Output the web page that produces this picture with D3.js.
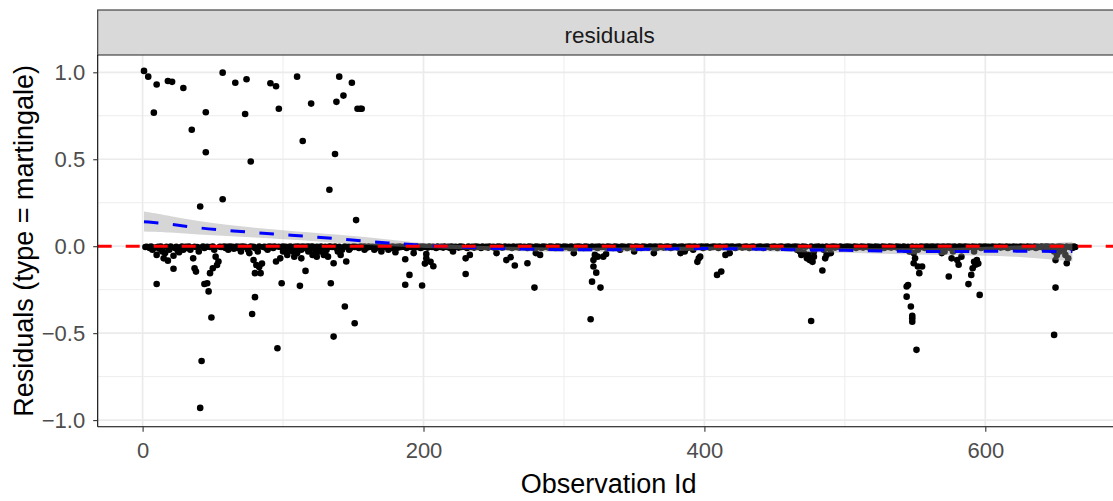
<!DOCTYPE html>
<html>
<head>
<meta charset="utf-8">
<script src="https://cdn.jsdelivr.net/npm/d3@7"></script>
<style>
  html, body { margin: 0; padding: 0; background: #ffffff; }
  svg { display: block; }
  text { font-family: "Liberation Sans", Arial, sans-serif; }
</style>
</head>
<body>
<div id="chart"></div>
<script>
// ---------------- DATA ----------------
const stripLabel = "residuals";
const xTitle = "Observation Id";
const yTitle = "Residuals (type = martingale)";
const xTicks = [0, 200, 400, 600];
const xMinor = [100, 300, 500];
const yTicks = [-1.0, -0.5, 0.0, 0.5, 1.0];
const yMinor = [-0.75, -0.25, 0.25, 0.75];
const xDomain = [-31.97, 697];
const yDomain = [-1.038, 1.0995];

// events (positive martingale residuals) [observation id, residual]
const highResiduals = [
  [1,1.008],[4,0.975],[8,0.768],[10,0.93],[18,0.95],[21,0.945],[29,0.91],[35,0.67],[41,0.228],
  [45,0.77],[45,0.54],[57,0.998],[57,0.27],[66,0.94],[73,0.76],[74,0.96],[77,0.487],
  [91,0.937],[95,0.92],[97,0.79],[110,0.975],[114,0.605],[120,0.82],[133,0.325],[137,0.53],
  [138,0.83],[140,0.975],[143,0.866],[149,0.94],[152,0.15],[153,0.79],[155,0.79],[156,0.79]
];

// clearly negative residuals [observation id, residual]
const lowResiduals = [
  [10,-0.217],[10,-0.05],[15,-0.07],[18,-0.083],[22,-0.13],[22,-0.055],[26,-0.035],[29,-0.02],
  [36,-0.07],[37,-0.127],[38,-0.146],[41,-0.93],[42,-0.66],[44,-0.217],[46,-0.213],[47,-0.26],
  [48,-0.155],[49,-0.41],[50,-0.127],[52,-0.06],[53,-0.108],[54,-0.088],
  [78,-0.39],[79,-0.08],[80,-0.293],[80,-0.155],[81,-0.108],[83,-0.12],[84,-0.155],[85,-0.10],
  [95,-0.088],[96,-0.587],[98,-0.07],[99,-0.213],[100,-0.03],[103,-0.05],[108,-0.06],
  [110,-0.04],[112,-0.228],[113,-0.07],[116,-0.142],[118,-0.03],[121,-0.05],[124,-0.06],
  [130,-0.04],[132,-0.06],[134,-0.213],[136,-0.098],[136,-0.52],[139,-0.03],[141,-0.05],
  [144,-0.347],[145,-0.088],[147,-0.02],[151,-0.443],[158,-0.02],
  [165,-0.02],[170,-0.03],[175,-0.02],[180,-0.035],
  [187,-0.075],[187,-0.222],[190,-0.165],[193,-0.04],[199,-0.226],[201,-0.1],[202,-0.07],
  [202,-0.045],[205,-0.09],[207,-0.115],[221,-0.03],[230,-0.16],[230,-0.07],[233,-0.05],
  [252,-0.04],[259,-0.08],[262,-0.063],[265,-0.111],[274,-0.098],[279,-0.238],[280,-0.04],
  [283,-0.05],[307,-0.04],[319,-0.42],[320,-0.204],[321,-0.117],[321,-0.08],[322,-0.05],
  [323,-0.152],[324,-0.06],[326,-0.238],[328,-0.06],[330,-0.045],
  [340,-0.02],[350,-0.03],[364,-0.04],[383,-0.04],[386,-0.03],[395,-0.09],[396,-0.07],
  [397,-0.06],[409,-0.165],[412,-0.146],[415,-0.05],[418,-0.04],
  [469,-0.05],[473,-0.07],[475,-0.08],[476,-0.43],[477,-0.09],[478,-0.06],[484,-0.14],
  [486,-0.07],[487,-0.05],[490,-0.04],
  [544,-0.232],[544,-0.29],[545,-0.223],[547,-0.347],[548,-0.414],[548,-0.434],[548,-0.40],
  [549,-0.098],[550,-0.07],[551,-0.596],[552,-0.117],[553,-0.155],[555,-0.117],
  [574,-0.174],[576,-0.07],[580,-0.08],[581,-0.107],[583,-0.06],[588,-0.218],[590,-0.165],
  [591,-0.127],[592,-0.09],[593,-0.107],[594,-0.08],[595,-0.1],[596,-0.28],
  [649,-0.51],[650,-0.238],[650,-0.08],[651,-0.05],[653,-0.03],[657,-0.05],[658,-0.098],[659,-0.07]
];

// dense band of censored observations with residuals close to zero [observation id, residual]
const nearZero = [
  [2,-0.005],[5,-0.01],[7,-0.02],[9,-0.008],[12,-0.015],[14,-0.03],[16,-0.04],[19,-0.02],[23,-0.01],
  [25,-0.025],[27,-0.008],[30,-0.005],[32,-0.01],[34,-0.02],[39,-0.005],[40,-0.03],[44,-0.01],
  [48,-0.005],[51,-0.02],[56,-0.005],[59,-0.01],[61,-0.02],[63,-0.005],[65,-0.015],[68,-0.01],
  [70,-0.03],[72,-0.005],[75,-0.02],[76,-0.04],[80,-0.01],[82,-0.03],[86,-0.005],[88,-0.01],
  [89,-0.02],[91,-0.005],[93,-0.01],[99,-0.005],[101,-0.01],[104,-0.02],[106,-0.005],[107,-0.03],
  [109,-0.01],[111,-0.005],[113,-0.02],[115,-0.01],[117,-0.005],[119,-0.02],[122,-0.01],[123,-0.04],
  [125,-0.005],[126,-0.03],[128,-0.01],[129,-0.05],[131,-0.02],[135,-0.005],[138,-0.01],[142,-0.02],
  [146,-0.005],[148,-0.01],[151,-0.005],[154,-0.01],[157,-0.005],[160,-0.008],[163,-0.005],
  [166,-0.01],[168,-0.005],[171,-0.008],[174,-0.005],[177,-0.01],[179,-0.005],[182,-0.008],
  [184,-0.005],[188,-0.01],[191,-0.005],[194,-0.008],[196,-0.005],[198,-0.01],[200,-0.005],
  [203,-0.008],[206,-0.005],[209,-0.01],[212,-0.005],[214,-0.008],[217,-0.005],[219,-0.01],
  [222,-0.005],[225,-0.008],[227,-0.005],[231,-0.01],[234,-0.005],[236,-0.008],[238,-0.005],
  [241,-0.01],[244,-0.005],[246,-0.008],[249,-0.005],[251,-0.01],[254,-0.005],[256,-0.008],
  [260,-0.005],[263,-0.01],[266,-0.005],[268,-0.008],[271,-0.005],[274,-0.01],[276,-0.005],
  [278,-0.008],[281,-0.005],[284,-0.01],[286,-0.005],[289,-0.008],[291,-0.005],[294,-0.01],
  [296,-0.005],[299,-0.008],[301,-0.005],[304,-0.01],[306,-0.005],[309,-0.008],[311,-0.005],
  [314,-0.01],[316,-0.005],[318,-0.008],[322,-0.005],[324,-0.01],[327,-0.005],[330,-0.008],
  [332,-0.005],[335,-0.01],[337,-0.005],[340,-0.008],[342,-0.005],[345,-0.01],[347,-0.005],
  [350,-0.008],[352,-0.005],[355,-0.01],[357,-0.005],[360,-0.008],[362,-0.005],[366,-0.01],
  [368,-0.005],[371,-0.008],[373,-0.005],[376,-0.01],[378,-0.005],[381,-0.008],[385,-0.005],
  [388,-0.01],[390,-0.005],[392,-0.02],[394,-0.005],[399,-0.01],[401,-0.005],[404,-0.008],
  [406,-0.005],[410,-0.01],[413,-0.005],[417,-0.008],[419,-0.005],[422,-0.01],[424,-0.005],
  [427,-0.008],[429,-0.005],[432,-0.01],[434,-0.005],[437,-0.008],[439,-0.005],[442,-0.01],
  [444,-0.005],[447,-0.008],[449,-0.005],[452,-0.01],[454,-0.005],[457,-0.008],[459,-0.005],
  [462,-0.01],[464,-0.005],[466,-0.02],[468,-0.03],[471,-0.04],[474,-0.05],[478,-0.03],
  [480,-0.01],[482,-0.005],[485,-0.02],[488,-0.01],[491,-0.005],[493,-0.008],[496,-0.005],
  [498,-0.01],[501,-0.005],[503,-0.008],[506,-0.005],[508,-0.01],[511,-0.005],[513,-0.008],
  [516,-0.005],[518,-0.01],[521,-0.005],[523,-0.008],[526,-0.005],[528,-0.01],[531,-0.005],
  [533,-0.008],[536,-0.005],[538,-0.01],[541,-0.005],[543,-0.02],[546,-0.03],[549,-0.04],
  [552,-0.02],[555,-0.005],[557,-0.01],[559,-0.005],[561,-0.008],[563,-0.005],[565,-0.01],
  [567,-0.02],[569,-0.04],[571,-0.03],[573,-0.005],[575,-0.01],[577,-0.03],[579,-0.005],
  [583,-0.008],[585,-0.005],[587,-0.01],[589,-0.005],[592,-0.03],[594,-0.005],[597,-0.01],
  [599,-0.005],[601,-0.008],[603,-0.005],[606,-0.01],[608,-0.005],[611,-0.008],[613,-0.005],
  [616,-0.01],[618,-0.005],[621,-0.008],[623,-0.005],[626,-0.01],[628,-0.005],[631,-0.008],
  [633,-0.005],[636,-0.01],[638,-0.005],[641,-0.008],[643,-0.005],[645,-0.01],[647,-0.02],
  [649,-0.03],[652,-0.005],[654,-0.01],[656,-0.02],[660,-0.005],[662,-0.01],[664,-0.005]
];

// further censored observations sitting right on zero [observation id, residual]
const onZero = [
  [3,-0.003],[6,-0.002],[11,-0.003],[13,-0.002],[17,-0.003],[20,-0.002],[24,-0.003],[28,-0.002],
  [31,-0.003],[33,-0.002],[37,-0.003],[43,-0.002],[46,-0.003],[50,-0.002],[55,-0.003],[58,-0.002],
  [60,-0.003],[62,-0.002],[64,-0.003],[67,-0.002],[69,-0.003],[71,-0.002],[73,-0.003],[77,-0.002],
  [79,-0.003],[83,-0.002],[87,-0.003],[90,-0.002],[92,-0.003],[94,-0.002],[97,-0.003],[100,-0.002],
  [102,-0.003],[105,-0.002],[108,-0.003],[110,-0.002],[112,-0.003],[114,-0.002],[116,-0.003],
  [118,-0.002],[120,-0.003],[121,-0.002],[124,-0.003],[127,-0.002],[130,-0.003],[133,-0.002],
  [134,-0.003],[137,-0.002],[140,-0.003],[144,-0.002],[147,-0.003],[150,-0.002],[152,-0.003],
  [155,-0.002],[156,-0.003],[158,-0.002],
  [161,-0.002],[164,-0.003],[167,-0.002],[170,-0.003],[173,-0.002],[176,-0.003],[178,-0.002],
  [181,-0.003],[183,-0.002],[186,-0.003],[189,-0.002],[192,-0.003],[195,-0.002],[197,-0.003],
  [199,-0.002],[201,-0.003],[204,-0.002],[207,-0.003],[210,-0.002],[213,-0.003],[215,-0.002],
  [218,-0.003],[220,-0.002],[223,-0.003],[226,-0.002],[228,-0.003],[232,-0.002],[235,-0.003],
  [237,-0.002],[239,-0.003],[242,-0.002],[245,-0.003],[247,-0.002],[250,-0.003],[253,-0.002],
  [255,-0.003],[258,-0.002],[261,-0.003],[264,-0.002],[267,-0.003],[269,-0.002],[272,-0.003],
  [275,-0.002],[277,-0.003],[280,-0.002],[282,-0.003],[285,-0.002],[287,-0.003],[290,-0.002],
  [292,-0.003],[295,-0.002],[297,-0.003],[300,-0.002],[302,-0.003],[305,-0.002],[308,-0.003],
  [310,-0.002],[312,-0.003],[315,-0.002],[317,-0.003],[320,-0.002],[323,-0.003],[325,-0.002],
  [328,-0.003],[331,-0.002],[333,-0.003],[336,-0.002],[338,-0.003],[341,-0.002],[343,-0.003],
  [346,-0.002],[348,-0.003],[351,-0.002],[353,-0.003],[356,-0.002],[358,-0.003],[361,-0.002],
  [363,-0.003],[365,-0.002],[367,-0.003],[369,-0.002],[372,-0.003],[374,-0.002],[377,-0.003],
  [379,-0.002],[382,-0.003],[384,-0.002],[387,-0.003],[389,-0.002],[391,-0.003],[393,-0.002],
  [396,-0.003],[398,-0.002],[400,-0.003],[402,-0.002],[405,-0.003],[407,-0.002],[409,-0.003],
  [411,-0.002],[414,-0.003],[416,-0.002],[418,-0.003],[420,-0.002],[423,-0.003],[425,-0.002],
  [428,-0.003],[430,-0.002],[433,-0.003],[435,-0.002],[438,-0.003],[440,-0.002],[443,-0.003],
  [445,-0.002],[448,-0.003],[450,-0.002],[453,-0.003],[455,-0.002],[458,-0.003],[460,-0.002],
  [463,-0.003],[465,-0.002],[467,-0.003],[470,-0.002],[472,-0.003],[476,-0.002],[479,-0.003],
  [481,-0.002],[484,-0.003],[487,-0.002],[490,-0.003],[492,-0.002],[494,-0.003],[497,-0.002],
  [500,-0.003],[502,-0.002],[504,-0.003],[507,-0.002],[509,-0.003],[512,-0.002],[514,-0.003],
  [517,-0.002],[519,-0.003],[522,-0.002],[524,-0.003],[527,-0.002],[529,-0.003],[532,-0.002],
  [534,-0.003],[537,-0.002],[539,-0.003],[542,-0.002],[545,-0.003],[548,-0.002],[551,-0.003],
  [554,-0.002],[556,-0.003],[558,-0.002],[560,-0.003],[562,-0.002],[564,-0.003],[566,-0.002],
  [568,-0.003],[570,-0.002],[572,-0.003],[574,-0.002],[576,-0.003],[578,-0.002],[581,-0.003],
  [582,-0.002],[584,-0.003],[586,-0.002],[588,-0.003],[591,-0.002],[593,-0.003],[596,-0.002],
  [598,-0.003],[600,-0.002],[602,-0.003],[605,-0.002],[607,-0.003],[610,-0.002],[612,-0.003],
  [615,-0.002],[617,-0.003],[620,-0.002],[622,-0.003],[625,-0.002],[627,-0.003],[630,-0.002],
  [632,-0.003],[635,-0.002],[637,-0.003],[640,-0.002],[642,-0.003],[644,-0.002],[646,-0.003],
  [648,-0.002],[651,-0.003],[653,-0.002],[655,-0.003],[658,-0.002],[661,-0.003],[663,-0.002]
];

// loess smooth with confidence band
const smoothX     = [1, 20, 40, 60, 80, 100, 120, 140, 160, 180, 200, 230, 260, 300, 340, 380, 420, 460, 500, 540, 580, 620, 662];
const smoothY     = [0.141, 0.127, 0.104, 0.091, 0.078, 0.066, 0.055, 0.042, 0.028, 0.016, 0.003, -0.006, -0.016, -0.021, -0.021, -0.014, -0.013, -0.021, -0.023, -0.031, -0.031, -0.027, -0.031];
const smoothLower = [0.084, 0.080, 0.066, 0.058, 0.050, 0.040, 0.031, 0.019, 0.006, -0.001, -0.010, -0.018, -0.028, -0.033, -0.033, -0.026, -0.025, -0.034, -0.037, -0.048, -0.052, -0.055, -0.088];
const smoothUpper = [0.199, 0.174, 0.142, 0.124, 0.106, 0.092, 0.079, 0.066, 0.052, 0.034, 0.016, 0.006, -0.004, -0.009, -0.009, -0.002, -0.001, -0.008, -0.009, -0.014, -0.010, 0.001, 0.026];
const refLine = 0;

// ---------------- LAYOUT ----------------
const W = 1113, H = 501;
const panel = { left: 97.7, top: 55, bottom: 426.7 };
const pxPerUnit = 1.4045;
const panelRight = panel.left + (xDomain[1] - xDomain[0]) * pxPerUnit;

const svg = d3.select("#chart").append("svg").attr("width", W).attr("height", H);

const x = d3.scaleLinear().domain(xDomain).range([panel.left, panelRight]);
const y = d3.scaleLinear().domain(yDomain).range([panel.bottom, panel.top]);

svg.append("defs").append("clipPath").attr("id", "clip")
  .append("rect").attr("x", panel.left).attr("y", panel.top)
  .attr("width", panelRight - panel.left).attr("height", panel.bottom - panel.top);

// grid
const grid = svg.append("g").attr("clip-path", "url(#clip)");
grid.selectAll(".ymin").data(yMinor).enter().append("line")
  .attr("x1", panel.left).attr("x2", panelRight)
  .attr("y1", d => y(d)).attr("y2", d => y(d))
  .attr("stroke", "#EBEBEB").attr("stroke-width", 0.9);
grid.selectAll(".xmin").data(xMinor).enter().append("line")
  .attr("y1", panel.top).attr("y2", panel.bottom)
  .attr("x1", d => x(d)).attr("x2", d => x(d))
  .attr("stroke", "#EBEBEB").attr("stroke-width", 0.9);
grid.selectAll(".ymaj").data(yTicks).enter().append("line")
  .attr("x1", panel.left).attr("x2", panelRight)
  .attr("y1", d => y(d)).attr("y2", d => y(d))
  .attr("stroke", "#EBEBEB").attr("stroke-width", 1.7);
grid.selectAll(".xmaj").data(xTicks).enter().append("line")
  .attr("y1", panel.top).attr("y2", panel.bottom)
  .attr("x1", d => x(d)).attr("x2", d => x(d))
  .attr("stroke", "#EBEBEB").attr("stroke-width", 1.7);

const plot = svg.append("g").attr("clip-path", "url(#clip)");

// points
const allPoints = onZero.concat(nearZero, lowResiduals, highResiduals);
plot.selectAll("circle.pt").data(allPoints).enter().append("circle")
  .attr("class", "pt")
  .attr("cx", d => x(d[0])).attr("cy", d => y(d[1]))
  .attr("r", 3.3).attr("fill", "#000000");

// ribbon
const smooth = smoothX.map((v, i) => ({ x: v, y: smoothY[i], lo: smoothLower[i], hi: smoothUpper[i] }));
plot.append("path").datum(smooth)
  .attr("d", d3.area().x(d => x(d.x)).y0(d => y(d.lo)).y1(d => y(d.hi)).curve(d3.curveBasis))
  .attr("fill", "#999999").attr("fill-opacity", 0.4);

// loess line
plot.append("path").datum(smooth)
  .attr("d", d3.line().x(d => x(d.x)).y(d => y(d.y)).curve(d3.curveBasis))
  .attr("fill", "none").attr("stroke", "#0000FF").attr("stroke-width", 3)
  .attr("stroke-dasharray", "14.5,14.5");

// reference line
plot.append("line")
  .attr("x1", panel.left).attr("x2", panelRight)
  .attr("y1", y(refLine)).attr("y2", y(refLine))
  .attr("stroke", "#FF0000").attr("stroke-width", 3)
  .attr("stroke-dasharray", "14,14");

// strip
svg.append("rect")
  .attr("x", panel.left).attr("y", 10)
  .attr("width", panelRight - panel.left + 10).attr("height", panel.top - 10)
  .attr("fill", "#D9D9D9").attr("stroke", "#333333").attr("stroke-width", 1.1);
svg.append("text")
  .attr("x", (panel.left + panelRight) / 2).attr("y", 43)
  .attr("text-anchor", "middle").attr("font-size", 22.5).attr("fill", "#1A1A1A")
  .text(stripLabel);

// axes
const fmt = d3.format(".1f");
const yAxis = svg.append("g").attr("transform", `translate(${panel.left},0)`)
  .call(d3.axisLeft(y).tickValues(yTicks).tickFormat(fmt).tickSize(4.5).tickPadding(8));
const xAxis = svg.append("g").attr("transform", `translate(0,${panel.bottom})`)
  .call(d3.axisBottom(x).tickValues(xTicks).tickFormat(d3.format("d")).tickSize(5).tickPadding(11));
[yAxis, xAxis].forEach(a => {
  a.select(".domain").attr("stroke", "#000000").attr("stroke-width", 1.1);
  a.selectAll(".tick line").attr("stroke", "#333333").attr("stroke-width", 1.1);
  a.selectAll(".tick text").attr("fill", "#4D4D4D").attr("font-size", 22)
    .attr("font-family", "'Liberation Sans', Arial, sans-serif");
});
yAxis.select(".domain").attr("d", `M0,${panel.top}V${panel.bottom}`);
xAxis.select(".domain").attr("d", `M${panel.left},0H${W + 5}`);

// titles
svg.append("text")
  .attr("x", (panel.left + panelRight) / 2 - 1).attr("y", 493)
  .attr("text-anchor", "middle").attr("font-size", 27).attr("fill", "#000000")
  .text(xTitle);
svg.append("text")
  .attr("transform", `translate(33,${(panel.top + panel.bottom) / 2}) rotate(-90)`)
  .attr("text-anchor", "middle").attr("font-size", 27).attr("fill", "#000000")
  .text(yTitle);
</script>
</body>
</html>
